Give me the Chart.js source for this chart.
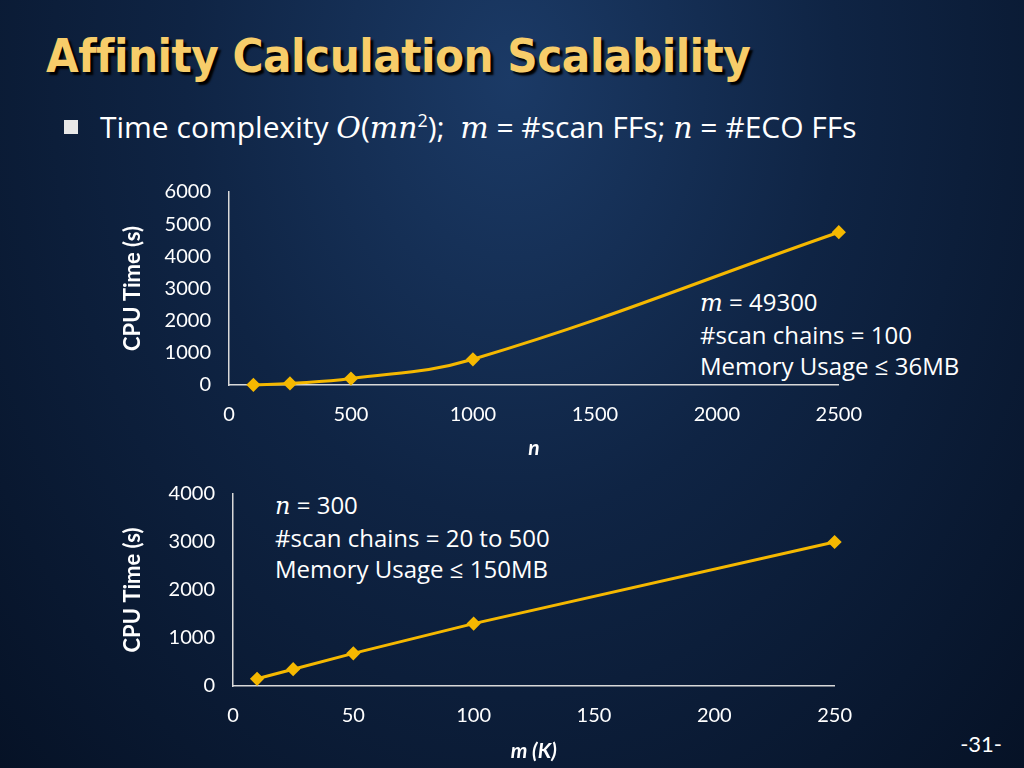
<!DOCTYPE html>
<html>
<head>
<meta charset="utf-8">
<script src="https://cdn.jsdelivr.net/npm/chart.js@4"></script>
<style>
  body { margin:0; width:1024px; height:768px; overflow:hidden;
         background: radial-gradient(ellipse at 50% 10%, #1b3a66 0%, #0f2444 45%, #061226 100%);
         font-family: Lato, "Open Sans", sans-serif; color:#fff; position:relative; }
  .title { position:absolute; left:46px; top:28px; font: bold 47px "DejaVu Sans Condensed", "DejaVu Sans", sans-serif;
           color:#f7cd6a; text-shadow: 3px 3px 2px #000; letter-spacing:-0.5px; }
  .bullet { position:absolute; left:100px; top:106px; font-size:30px; font-family:"Open Sans", sans-serif; }
  .bullet:before { content:""; position:absolute; left:-36px; top:14px; width:14px; height:14px; background:#e8e8e8; }
  .note { position:absolute; font-size:24px; line-height:31px; font-family:"Open Sans", sans-serif; }
  i.m { font-family:"DejaVu Serif", serif; }
  .pg { position:absolute; right:22px; top:730px; font-size:22px; }
  canvas { position:absolute; }
</style>
</head>
<body>
<div class="title">Affinity Calculation Scalability</div>
<div class="bullet">Time complexity <i class="m">O</i>(<i class="m">mn</i><sup style="font-size:18px">2</sup>); &nbsp;<i class="m">m</i> = #scan FFs; <i class="m">n</i> = #ECO FFs</div>
<div class="note" style="left:700px;top:286px"><i class="m">m</i> = 49300<br>#scan chains = 100<br>Memory Usage ≤ 36MB</div>
<div class="note" style="left:275px;top:489px"><i class="m">n</i> = 300<br>#scan chains = 20 to 500<br>Memory Usage ≤ 150MB</div>
<div class="pg">-31-</div>
<div style="position:absolute;left:120px;top:162px;width:760px;height:303px"><canvas id="c1"></canvas></div>
<div style="position:absolute;left:120px;top:464px;width:750px;height:304px"><canvas id="c2"></canvas></div>
<script>
var nValues = [100, 250, 500, 1000, 2500];
var nTimes = [5, 50, 200, 800, 4750];
var mValues = [10, 25, 50, 100, 250];
var mTimes = [150, 350, 680, 1300, 3000];

var lineColor = '#f5b800';
var axisColor = '#d9d9d9';
var tickFont = { family: 'Lato, "Open Sans", sans-serif', size: 20 };

function makeChart(id, xs, ys, xMax, xStep, yMax, xTitle, yWidth, xHeight, tension, tickPad) {
  return new Chart(document.getElementById(id), {
    type: 'scatter',
    data: { datasets: [{
      data: xs.map(function (x, i) { return { x: x, y: ys[i] }; }),
      showLine: true, borderColor: lineColor, borderWidth: 3, tension: tension, clip: false,
      pointStyle: 'rectRot', pointRadius: 5, pointBackgroundColor: lineColor, pointBorderColor: lineColor
    }] },
    options: {
      responsive: true, maintainAspectRatio: false, animation: false,
      layout: { padding: { top: 0, right: 0 } },
      plugins: { legend: { display: false }, tooltip: { enabled: false } },
      scales: {
        x: { type: 'linear', min: 0, max: xMax,
             ticks: { stepSize: xStep, color: '#fff', font: tickFont, padding: tickPad, maxRotation: 0,
                      callback: function (v) { return String(v); } },
             grid: { display: false, drawTicks: false }, border: { color: axisColor, width: 1.5 },
             title: { display: true, text: xTitle, color: '#fff',
                      font: { family: 'Lato, sans-serif', size: 21, weight: 'bold', style: 'italic' } },
             afterFit: function (s) { s.height = xHeight; } },
        y: { min: 0, max: yMax,
             ticks: { stepSize: 1000, color: '#fff', font: tickFont, padding: 18,
                      callback: function (v) { return String(v); } },
             grid: { display: false, drawTicks: false }, border: { color: axisColor, width: 1.5 },
             title: { display: true, text: 'CPU Time (s)', color: '#fff',
                      font: { family: 'Lato, sans-serif', size: 22, weight: 'bold' }, padding: 0 },
             afterFit: function (s) { s.width = yWidth; } }
      }
    }
  });
}

makeChart('c1', nValues, nTimes, 2500, 500, 6000, 'n', 109, 80, 0.4, 18);
makeChart('c2', mValues, mTimes, 250, 50, 4000, 'm (K)', 113, 82, 0, 18);
</script>
</body>
</html>
